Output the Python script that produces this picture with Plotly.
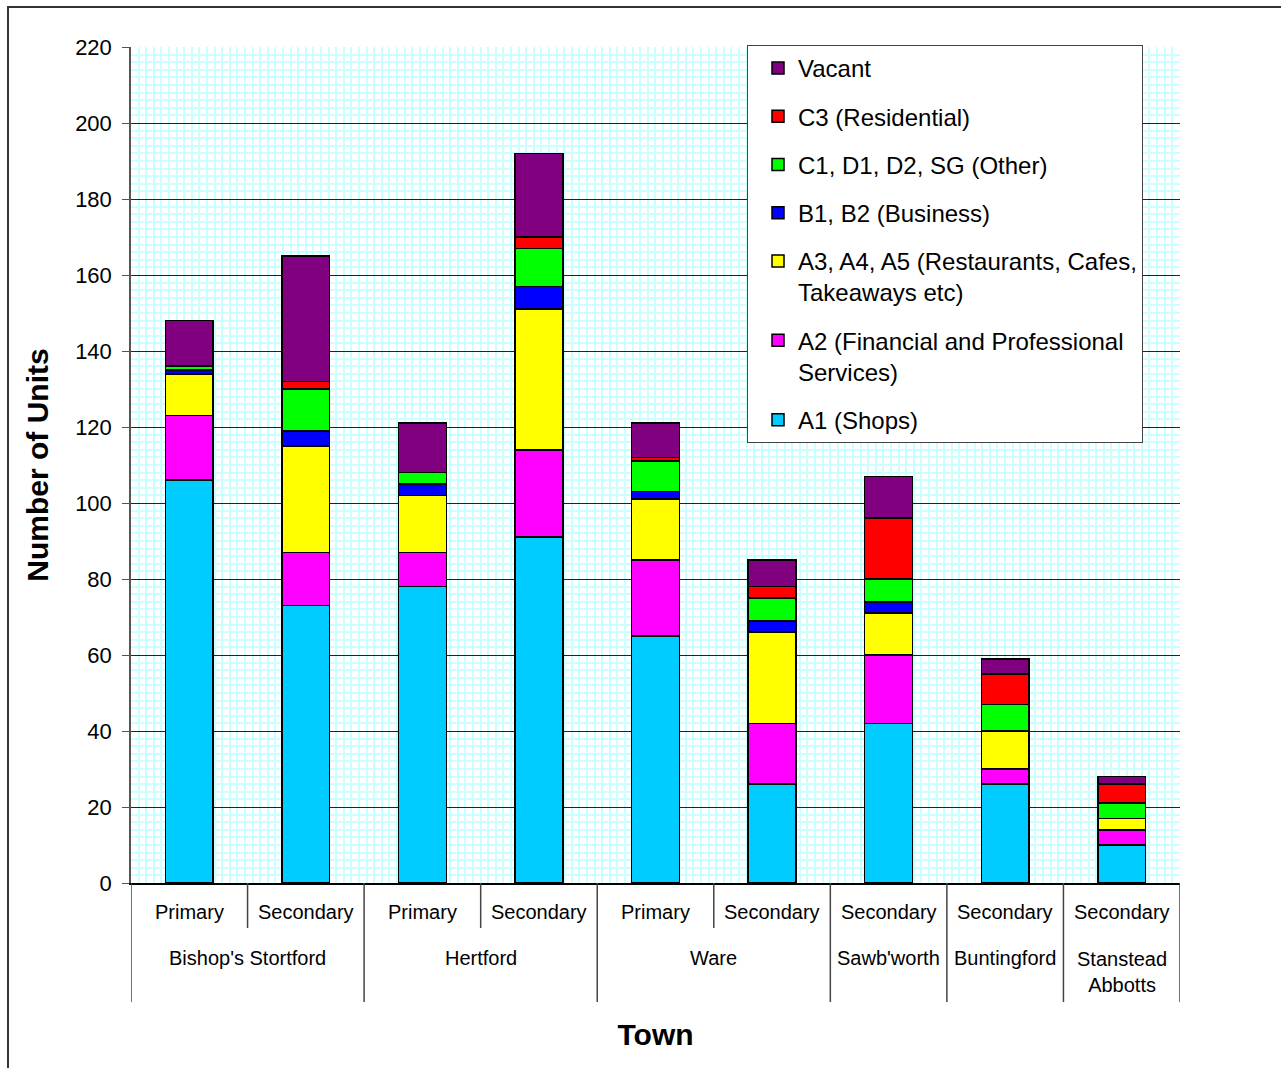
import plotly.graph_objects as go

# Retail units by use class, per town centre frontage
segments = ["Primary", "Secondary", "Primary", "Secondary", "Primary",
            "Secondary", "Secondary", "Secondary", "Secondary"]
towns = ["Bishop's Stortford", "Hertford", "Ware", "Sawb'worth",
         "Buntingford", "Stanstead<br>Abbotts"]
town_span = [2, 2, 2, 1, 1, 1]

a1_shops = [106, 73, 78, 91, 65, 26, 42, 26, 10]
a2_financial = [17, 14, 9, 23, 20, 16, 18, 4, 4]
a3_food = [11, 28, 15, 37, 16, 24, 11, 10, 3]
b1_business = [1, 4, 3, 6, 2, 3, 3, 0, 0]
c1_other = [1, 11, 3, 10, 8, 6, 6, 7, 4]
c3_residential = [0, 2, 0, 3, 1, 3, 16, 8, 5]
vacant = [12, 33, 13, 22, 9, 7, 11, 4, 2]

series_names = [
    "A1 (Shops)",
    "A2 (Financial and Professional<br>Services)",
    "A3, A4, A5 (Restaurants, Cafes,<br>Takeaways etc)",
    "B1, B2 (Business)",
    "C1, D1, D2, SG (Other)",
    "C3 (Residential)",
    "Vacant",
]
series_values = [a1_shops, a2_financial, a3_food, b1_business,
                 c1_other, c3_residential, vacant]
series_colors = ["#00CCFF", "#FF00FF", "#FFFF00", "#0000FF",
                 "#00FF00", "#FF0000", "#800080"]

FONT = "Liberation Sans, Arial, sans-serif"
W, H = 1281, 1068
L, R, T, B = 131, 101, 47, 185
PW, PH = W - L - R, H - T - B


def py(pixel_y):
    """Convert a page pixel row to paper y."""
    return (H - B - pixel_y) / PH


def px(pixel_x):
    return (pixel_x - L) / PW


xs = list(range(len(segments)))
n_series = len(series_names)

fig = go.Figure()
for i, (name, vals, col) in enumerate(zip(series_names, series_values, series_colors)):
    fig.add_trace(go.Bar(
        x=xs, y=vals, name=name, width=0.41,
        marker=dict(color=col, line=dict(color="black", width=1.5)),
        legendgroup=f"g{i}",
        legendrank=n_series - i,   # stack top listed first
    ))

annotations = []
# inner row: frontage type
for i, seg in enumerate(segments):
    annotations.append(dict(x=i, y=py(912), xref="x", yref="paper", text=seg,
                            showarrow=False, yanchor="middle",
                            font=dict(family=FONT, size=20, color="black")))
# outer row: town names
shapes = []
start = 0
for town, span in zip(towns, town_span):
    centre = start + (span - 1) / 2
    two_line = "<br>" in town
    annotations.append(dict(x=centre, y=py(972 if two_line else 958), xref="x", yref="paper",
                            text=town, showarrow=False, yanchor="middle",
                            font=dict(family=FONT, size=20, color="black")))
    # short dividers between frontages inside a town
    for k in range(1, span):
        xd = start + k - 0.5
        shapes.append(dict(type="line", xref="x", yref="paper", x0=xd, x1=xd,
                           y0=0, y1=py(928), line=dict(color="#444", width=1.5)))
    start += span
# long dividers between towns
edges = [-0.5]
acc = -0.5
for span in town_span:
    acc += span
    edges.append(acc)
for xd in edges:
    shapes.append(dict(type="line", xref="x", yref="paper", x0=xd, x1=xd,
                       y0=0, y1=py(1002), line=dict(color="#444", width=1.5)))

# chart frame
shapes.append(dict(type="rect", xref="paper", yref="paper",
                   x0=px(8), x1=px(1290), y0=py(1080), y1=py(7),
                   line=dict(color="#333", width=2), fillcolor="rgba(0,0,0,0)",
                   layer="below"))

fig.update_layout(
    width=W, height=H, autosize=False,
    margin=dict(l=L, r=R, t=T, b=B),
    paper_bgcolor="white", plot_bgcolor="white",
    barmode="stack",
    font=dict(family=FONT, size=20, color="black"),
    showlegend=True,
    legend=dict(
        x=px(747), y=py(45), xanchor="left", yanchor="top",
        traceorder="grouped", tracegroupgap=14, valign="top",
        bgcolor="white", bordercolor="#444", borderwidth=1,
        font=dict(family=FONT, size=24, color="black"),
        indentation=10, entrywidth=370, entrywidthmode="pixels",
    ),
    xaxis=dict(
        range=[-0.5, 8.5], showticklabels=False, ticks="", showgrid=False,
        zeroline=False, showline=True, linecolor="black", linewidth=1.5,
        tick0=0, dtick=1,
        minor=dict(tick0=-0.5, dtick=0.0652, showgrid=True,
                   gridcolor="#ccffff", gridwidth=2, ticks=""),
        title=dict(text="<b>Town</b>", standoff=140,
                   font=dict(family=FONT, size=30, color="black")),
    ),
    yaxis=dict(
        range=[0, 220], tick0=0, dtick=20, showgrid=True, gridcolor="#222",
        gridwidth=1, zeroline=False, showline=True, linecolor="#555",
        linewidth=1.5, ticks="outside", ticklen=7, tickcolor="#555",
        tickfont=dict(family=FONT, size=22, color="black"),
        ticklabelstandoff=6,
        minor=dict(dtick=2, showgrid=True, gridcolor="#ccffff", gridwidth=2, ticks=""),
        title=dict(text="<b>Number of Units</b>", standoff=18,
                   font=dict(family=FONT, size=30, color="black")),
    ),
    annotations=annotations,
    shapes=shapes,
)

fig.write_html("out.html")
